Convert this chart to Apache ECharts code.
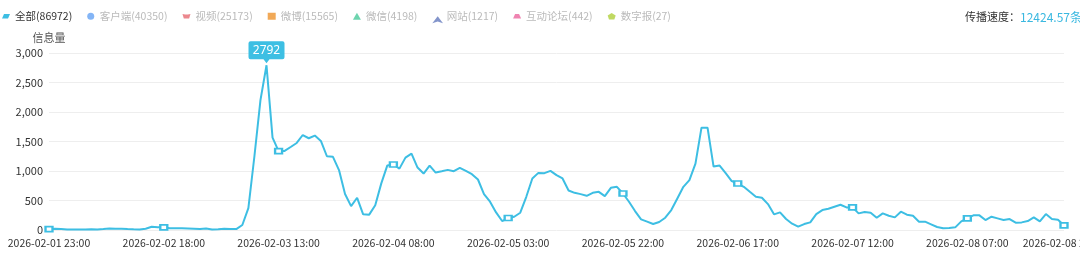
<!DOCTYPE html>
<html>
<head>
<meta charset="utf-8">
<script src="https://cdn.jsdelivr.net/npm/echarts@6/dist/echarts.min.js"></script>
<style>
html,body{margin:0;padding:0;background:#fff;}
#c{width:1080px;height:257px;}
</style>
</head>
<body>
<div id="c"></div>
<script>
// Hourly categories from 2026-02-01 23:00 to 2026-02-08 23:00
var startTime = '2026-02-01 23:00';
var hourCount = 169;
var categories = [];
(function () {
  var d = new Date(2026, 1, 1, 23, 0, 0);
  function p(n) { return (n < 10 ? '0' : '') + n; }
  for (var i = 0; i < hourCount; i++) {
    categories.push(d.getFullYear() + '-' + p(d.getMonth() + 1) + '-' + p(d.getDate()) + ' ' + p(d.getHours()) + ':00');
    d = new Date(d.getTime() + 3600000);
  }
})();

var allValues = [
  15, 20, 15, 10, 8, 8, 10, 12, 10, 15, 25, 20, 20, 15, 12, 10, 20, 55, 45, 45,
  30, 30, 30, 25, 20, 15, 25, 10, 12, 20, 15, 15, 85, 370, 1250, 2200, 2792, 1565, 1337, 1340,
  1407, 1475, 1610, 1555, 1600, 1510, 1250, 1240, 1015, 610, 405, 546, 265, 260, 420, 790, 1095, 1110, 1040, 1227,
  1295, 1058, 957, 1092, 974, 996, 1019, 996, 1053, 1002, 946, 856, 608, 479, 298, 152, 203, 225, 293, 563,
  873, 968, 963, 1002, 929, 873, 670, 630, 608, 580, 630, 647, 574, 715, 732, 619, 479, 321, 180, 141,
  101, 135, 208, 338, 535, 732, 845, 1126, 1734, 1734, 1075, 1092, 965, 830, 788, 732, 647, 563, 546, 439,
  265, 298, 186, 107, 56, 101, 129, 270, 338, 360, 394, 428, 383, 383, 282, 304, 293, 208, 282, 242,
  214, 310, 259, 242, 141, 141, 96, 51, 28, 34, 45, 146, 197, 248, 248, 169, 225, 197, 169, 186,
  124, 129, 152, 214, 146, 270, 186, 175, 79
];

var legendNames = ['全部(86972)', '客户端(40350)', '视频(25173)', '微博(15565)', '微信(4198)', '网站(1217)', '互动论坛(442)', '数字报(27)'];
var legendColors = ['#3DBEE3', '#6FA8F5', '#E8737A', '#EE9A3A', '#53CCA0', '#6D83C2', '#EC6FA3', '#B5D247'];
var legendIcons = [
  'path://M3,0 L12,0 L9,7 L0,7 Z',
  'circle',
  'path://M0,0 L4,1 L8,1 L12,0 L10,7 L2,7 Z',
  'rect',
  'triangle',
  'arrow',
  'path://M3,0 L9,0 L12,7 L0,7 Z',
  'path://M6,0 L12,4 L10,10 L2,10 L0,4 Z'
];
var speedLabel = '传播速度：';
var speedValue = '12424.57条/小时';
var yName = '信息量';
var yMax = 3000;
var yInterval = 500;
var labelStep = 19;

var peakIndex = allValues.indexOf(Math.max.apply(null, allValues));

var chart = echarts.init(document.getElementById('c'), null, { renderer: 'canvas' });

var series = [{
  name: legendNames[0],
  type: 'line',
  data: allValues,
  smooth: false,
  symbol: 'emptyRect',
  symbolSize: [7, 5],
  showAllSymbol: 'auto',
  lineStyle: { width: 2, color: legendColors[0] },
  itemStyle: { color: legendColors[0], borderWidth: 1 },
  emphasis: { disabled: true },
  markPoint: {
    symbol: 'path://M2,0 H34 Q36,0 36,2 V16 Q36,18 34,18 H21 L18,22 L15,18 H2 Q0,18 0,16 V2 Q0,0 2,0 Z',
    symbolSize: [36, 22],
    symbolOffset: [0, -13],
    itemStyle: { color: '#3DBFE3' },
    label: { color: '#fff', fontSize: 12, offset: [0, -2], fontFamily: 'Noto Sans, sans-serif' },
    data: [{ coord: [peakIndex, allValues[peakIndex]], value: allValues[peakIndex] }]
  }
}];
for (var k = 1; k < legendNames.length; k++) {
  series.push({
    name: legendNames[k], type: 'line', data: [],
    itemStyle: { color: legendColors[k] }, lineStyle: { color: legendColors[k] }
  });
}

var legendData = legendNames.map(function (n, i) {
  return {
    name: n,
    icon: legendIcons[i],
    itemStyle: { color: legendColors[i], opacity: i === 0 ? 1 : 0.85 },
    textStyle: { color: i === 0 ? '#333' : '#bbb' }
  };
});

chart.setOption({
  animation: false,
  textStyle: { fontFamily: '"Noto Sans CJK SC", "Noto Sans", sans-serif' },
  legend: {
    left: 2,
    top: 11,
    padding: 0,
    itemWidth: 8,
    itemHeight: 7,
    itemGap: 15,
    textStyle: { fontSize: 10.5 },
    data: legendData
  },
  graphic: [{
    type: 'text',
    left: 965,
    top: 11,
    style: {
      text: '{a|' + speedLabel + '}{b|' + speedValue + '}',
      rich: {
        a: { fontSize: 11, fill: '#333', fontFamily: '"Noto Sans CJK SC", sans-serif' },
        b: { fontSize: 12, fill: '#3AB8E0', fontFamily: '"Noto Sans CJK SC", sans-serif' }
      }
    }
  }],
  grid: { left: 49, right: 16, top: 53, bottom: 27, containLabel: false, outerBoundsMode: 'none' },
  xAxis: {
    type: 'category',
    boundaryGap: false,
    data: categories,
    axisLine: { show: false },
    axisTick: { show: false },
    axisLabel: {
      color: '#333',
      fontSize: 10.5,
      margin: 8,
      hideOverlap: false,
      interval: function (index) { return index % labelStep === 0 || index === categories.length - 1; }
    },
    splitLine: { show: false }
  },
  yAxis: {
    type: 'value',
    min: 0,
    max: yMax,
    interval: yInterval,
    name: yName,
    nameGap: 10,
    nameTextStyle: { color: '#555', fontSize: 11 },
    axisLine: { show: false },
    axisTick: { show: false },
    axisLabel: { color: '#333', fontSize: 11, margin: 6 },
    splitLine: { lineStyle: { color: '#eeeeee' } }
  },
  series: series
});
</script>
</body>
</html>
